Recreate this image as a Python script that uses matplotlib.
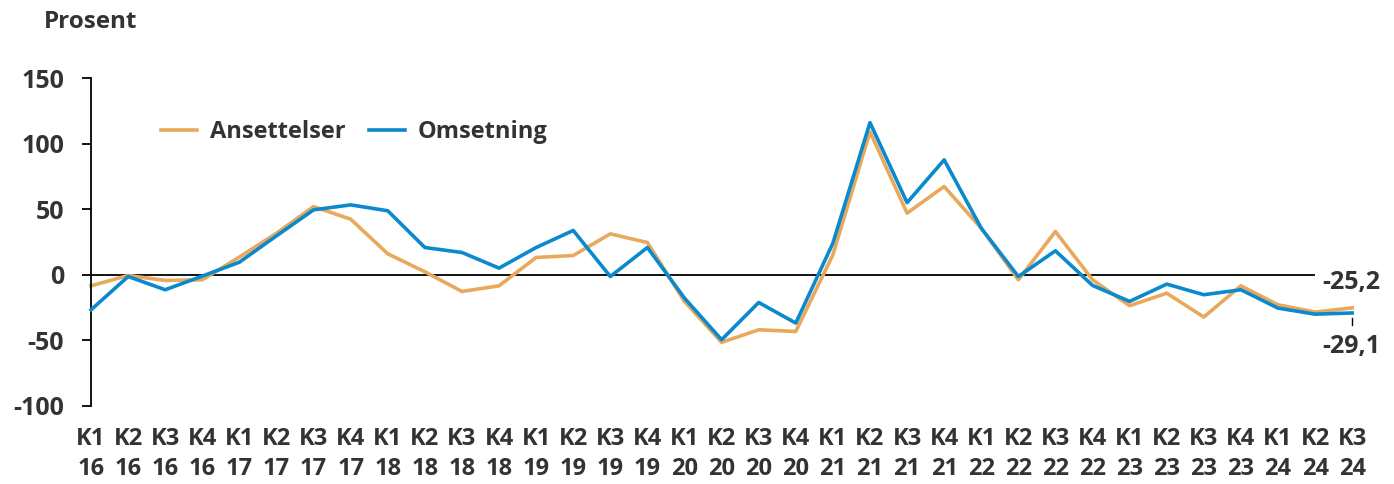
import numpy as np
import matplotlib.pyplot as plt

plt.rcParams['font.family'] = ['Open Sans', 'DejaVu Sans']
plt.rcParams['font.weight'] = 'bold'
plt.rcParams['axes.unicode_minus'] = False

quarters = (['K1', 'K2', 'K3', 'K4'] * 9)[:35]
years = [str(16 + i // 4) for i in range(35)]
labels = [q + '\n' + y for q, y in zip(quarters, years)]

ansettelser = [-8.4, -0.5, -4.3, -3.8, 13.5, 31.7, 52.0, 42.4, 16.0, 2.3, -12.7, -8.4,
               13.2, 14.7, 31.2, 24.6, -20.3, -51.5, -41.9, -43.2, 15.2, 109.0, 47.0, 67.3,
               35.5, -3.8, 33.0, -3.8, -23.6, -14.0, -32.2, -8.4, -22.9, -28.4, -25.2]
omsetning = [-26.7, -1.3, -11.4, -1.0, 9.6, 29.7, 49.5, 53.3, 48.8, 20.8, 17.0, 5.1,
             20.8, 33.8, -1.3, 20.8, -17.8, -49.5, -21.1, -36.8, 24.1, 116.0, 55.0, 87.6,
             35.5, -1.3, 18.3, -8.1, -20.3, -7.1, -15.2, -11.4, -25.4, -30.0, -29.1]
end_labels = ['-25,2', '-29,1']

orange = '#E8A95C'
blue = '#0A8ACD'
txt = '#333333'

fig = plt.figure(figsize=(13.94, 4.84), dpi=100)
ax = fig.add_axes([0.0653, 0.1612, 0.9047, 0.6776])

x = np.arange(len(labels))
ax.hlines(0, 0, 33, color='black', lw=1.3, zorder=1)
ax.plot(x, ansettelser, color=orange, lw=2.6, label='Ansettelser', clip_on=False, zorder=2)
ax.plot(x, omsetning, color=blue, lw=2.6, label='Omsetning', clip_on=False, zorder=3)

ax.set_xlim(0, 34)
ax.set_ylim(-100, 150)
ax.set_yticks([-100, -50, 0, 50, 100, 150])
ax.set_xticks(x)
ax.set_xticklabels(labels, fontsize=17, color=txt, fontweight='bold', linespacing=1.33)
ax.tick_params(axis='x', length=0, pad=15)
ax.tick_params(axis='y', length=6.5, width=1.3, direction='out', labelsize=18, labelcolor=txt, pad=13)
for lab in ax.get_yticklabels():
    lab.set_fontweight('bold')

for s in ['top', 'right', 'bottom']:
    ax.spines[s].set_visible(False)
ax.spines['left'].set_linewidth(1.3)

# end labels
ax.plot([34, 34], [-33, -38], color='black', lw=1, clip_on=False)
ax.text(33.19, -6.1, end_labels[0], fontsize=18, fontweight='bold',
        color=txt, ha='left', va='center', clip_on=False)
ax.text(33.19, -54.8, end_labels[1], fontsize=18, fontweight='bold',
        color=txt, ha='left', va='center', clip_on=False)

fig.text(0.0316, 0.955, 'Prosent', fontsize=17.5, fontweight='bold', color=txt, ha='left', va='center')

ax.legend(loc='center left', bbox_to_anchor=(0.039, 0.835), ncol=2, frameon=False,
          prop={'size': 17, 'weight': 'bold'}, labelcolor=txt, handlelength=1.5,
          columnspacing=1.0, handletextpad=0.55)

fig.savefig('out.png', dpi=100)
